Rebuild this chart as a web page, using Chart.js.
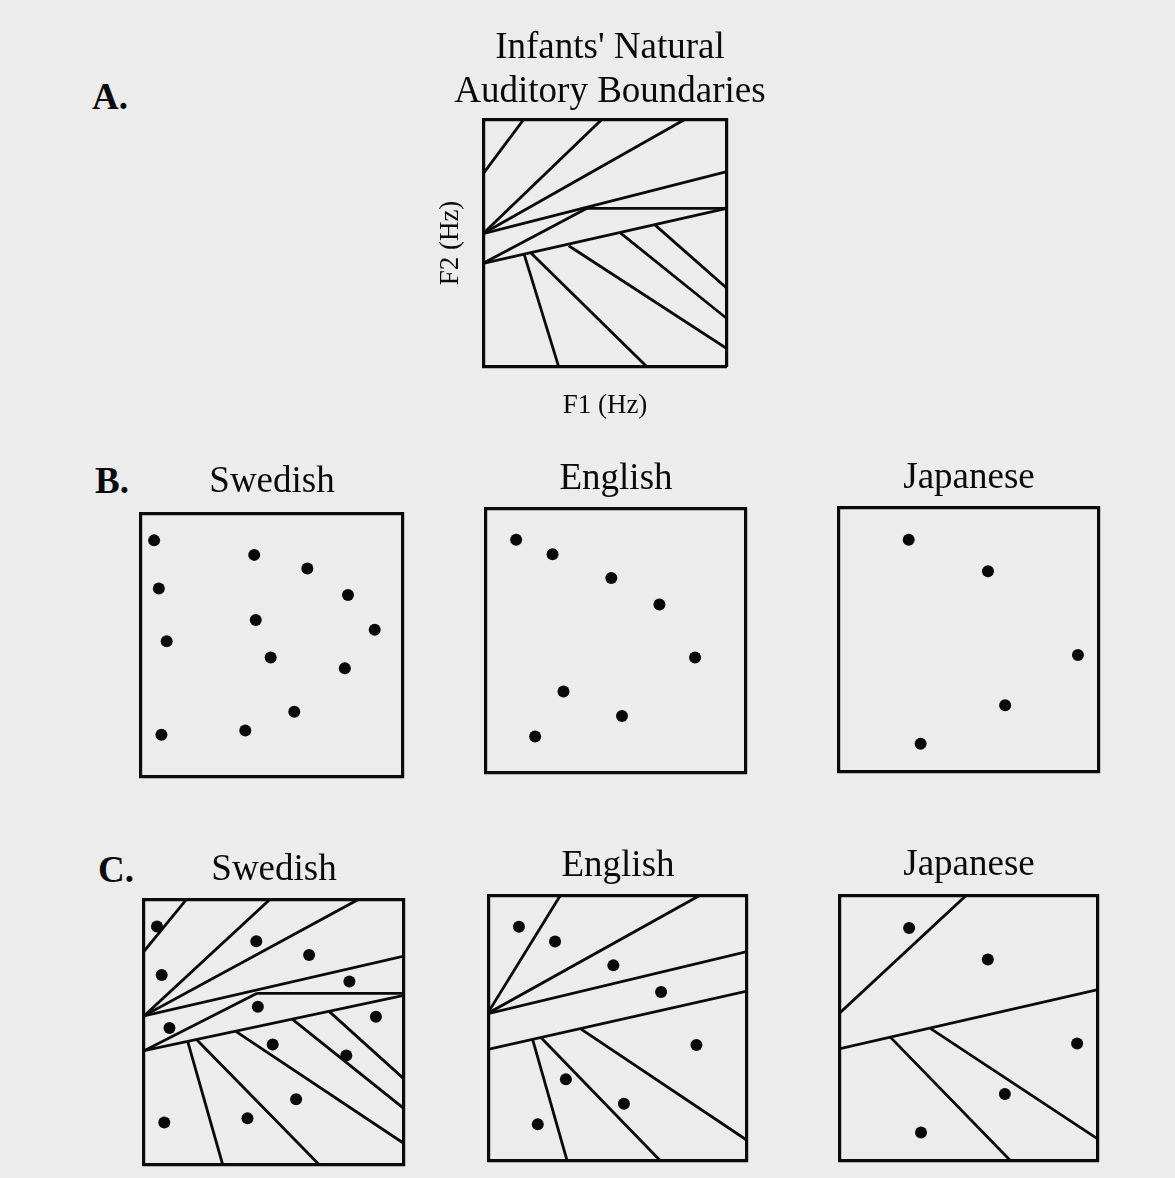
<!DOCTYPE html>
<html>
<head>
<meta charset="utf-8">
<script src="https://cdn.jsdelivr.net/npm/chart.js@4.4.1/dist/chart.umd.min.js"></script>
<style>
  body { margin: 0; width: 1175px; height: 1178px; background: #ececec; position: relative; overflow: hidden; }
  canvas { position: absolute; }
  .lbl { position: absolute; font: bold 37px "Liberation Serif", "Times New Roman", serif; line-height: 37px; color: #0a0a0a; }
</style>
</head>
<body>
<div class="lbl" style="left:92px;top:78px">A.</div>
<div class="lbl" style="left:95px;top:462px">B.</div>
<div class="lbl" style="left:98px;top:851px">C.</div>

<script>
// vowel positions on a 0-100 F1 / F2 scale (F2 upwards)
const swedishF1 = [5, 43.2, 63.5, 6.8, 79, 43.8, 89.2, 9.8, 49.5, 77.8, 58.5, 7.8, 39.8];
const swedishF2 = [89.7, 84.2, 79, 71.5, 69, 59.5, 55.8, 51.5, 45.3, 41.2, 24.7, 16, 17.6];
const englishF1 = [11.6, 25.6, 48.2, 66.7, 80.4, 29.8, 52.3, 18.9];
const englishF2 = [88.1, 82.6, 73.6, 63.6, 43.6, 30.8, 21.5, 13.8];
const japaneseF1 = [26.8, 57.3, 91.9, 63.9, 31.4];
const japaneseF2 = [87.7, 75.8, 44.2, 25.2, 10.7];

// boundary lines: [F1 start, F2 start, F1 end, F2 end]
const infantLines = [
  [0, 78, 16.7, 100],
  [0, 53.8, 48.8, 100],
  [0, 53.8, 82.9, 100],
  [0, 53.8, 100, 78.8],
  [0, 41.8, 42.6, 64],
  [42.6, 64, 100, 64],
  [0, 41.8, 100, 64],
  [16.7, 45.8, 31, 0],
  [19.4, 46.2, 67.2, 0],
  [35.1, 48.9, 100, 7.4],
  [56.3, 54.1, 100, 19.5],
  [70.6, 57.2, 100, 31.7]
];
const swedishLines = [
  [0, 80.4, 16.4, 100],
  [0, 56.1, 48.5, 100],
  [0, 56.1, 82.6, 100],
  [0, 56.1, 100, 78.6],
  [0, 43, 43.5, 64.6],
  [43.5, 64.6, 100, 64.6],
  [0, 43, 100, 63.8],
  [16.8, 46.5, 30.3, 0],
  [20.2, 47.2, 67.5, 0],
  [35.3, 50.3, 100, 8.1],
  [57, 54.9, 100, 21.2],
  [71.2, 57.8, 100, 32.4]
];
const englishLines = [
  [0, 56.4, 27.7, 100],
  [0, 55.8, 81.8, 100],
  [0, 55.5, 100, 78.8],
  [0, 42.1, 100, 63.9],
  [16.9, 45.8, 30.3, 0],
  [20.1, 46.5, 66.5, 0],
  [35.4, 49.8, 100, 7.8]
];
const japaneseLines = [
  [0, 55.8, 49, 100],
  [0, 42.3, 100, 64.5],
  [19.5, 46.6, 66.2, 0],
  [35, 49.9, 100, 8.2]
];

const INK = '#0a0a0a';
const SERIF = "'Liberation Serif', 'Times New Roman', serif";
const PAD = 4;
const TITLE_LH = 37 * 1.2;
const AXIS_LH = 27 * 1.2;

function lineSets(lines) {
  return lines.map(s => ({
    data: [{x: s[0], y: s[1]}, {x: s[2], y: s[3]}],
    showLine: true,
    pointRadius: 0,
    borderColor: INK,
    borderWidth: 2.8
  }));
}

function pointSet(f1, f2) {
  return {
    data: f1.map((v, i) => ({x: v, y: f2[i]})),
    showLine: false,
    pointRadius: 6,
    pointBackgroundColor: INK,
    pointBorderWidth: 0
  };
}

function edgeScale(position, title, spacer) {
  return {
    type: 'linear',
    position: position,
    min: 0,
    max: 100,
    ticks: {display: false},
    // hidden tick marks only reserve room (used to centre the panel A title)
    grid: {display: false, drawTicks: !!spacer, tickLength: spacer || 0},
    border: {display: true, color: INK, width: 3.2},
    title: title || {display: false}
  };
}

// box = plot frame in page pixels, titleY = centre of first title line
function panel(box, titleText, titleY, datasets, axes) {
  const lines = Array.isArray(titleText) ? titleText.length : 1;
  let leftSpace = 0, bottomSpace = 0, rightSpace = 0, xTitle, yTitle;
  if (axes) {
    const yGap = box.l - axes.yAt - AXIS_LH / 2;
    const xGap = axes.xAt - box.b - AXIS_LH / 2;
    leftSpace = AXIS_LH + yGap;
    bottomSpace = AXIS_LH + xGap;
    rightSpace = 2 * axes.titleX - (box.l - leftSpace) - box.r;
    yTitle = {display: true, text: axes.y, color: INK, font: {family: SERIF, size: 27, lineHeight: 1.2}, padding: {top: 0, bottom: yGap}};
    xTitle = {display: true, text: axes.x, color: INK, font: {family: SERIF, size: 27, lineHeight: 1.2}, padding: {top: xGap, bottom: 0}};
  }
  const left = box.l - leftSpace - PAD;
  const top = titleY - TITLE_LH / 2 - PAD;
  const width = Math.round(box.r + rightSpace + PAD - left);
  const height = Math.round(box.b + bottomSpace + PAD - top);

  const cv = document.createElement('canvas');
  cv.width = width;
  cv.height = height;
  cv.style.left = left + 'px';
  cv.style.top = top + 'px';
  cv.style.width = width + 'px';
  cv.style.height = height + 'px';
  document.body.appendChild(cv);

  new Chart(cv.getContext('2d'), {
    type: 'scatter',
    data: {datasets: datasets},
    options: {
      responsive: false,
      animation: false,
      devicePixelRatio: 1,
      layout: {padding: PAD},
      plugins: {
        legend: {display: false},
        tooltip: {enabled: false},
        title: {
          display: true,
          text: titleText,
          color: INK,
          font: {family: SERIF, size: 37, lineHeight: 1.2, weight: 'normal'},
          padding: {top: 0, bottom: box.t - (titleY - TITLE_LH / 2) - lines * TITLE_LH}
        }
      },
      scales: {
        x: edgeScale('bottom', xTitle),
        y: edgeScale('left', yTitle),
        x2: edgeScale('top'),
        y2: edgeScale('right', null, rightSpace)
      }
    }
  });
}

panel({l: 483, t: 119, r: 727, b: 367}, ["Infants' Natural", 'Auditory Boundaries'], 48,
  lineSets(infantLines), {x: 'F1 (Hz)', y: 'F2 (Hz)', xAt: 406, yAt: 451, titleX: 610});

panel({l: 139, t: 513, r: 405, b: 779}, 'Swedish', 482, [pointSet(swedishF1, swedishF2)]);
panel({l: 484, t: 508, r: 748, b: 775}, 'English', 479, [pointSet(englishF1, englishF2)]);
panel({l: 837, t: 507, r: 1101, b: 774}, 'Japanese', 478, [pointSet(japaneseF1, japaneseF2)]);

panel({l: 142, t: 899, r: 406, b: 1167}, 'Swedish', 870,
  lineSets(swedishLines).concat([pointSet(swedishF1, swedishF2)]));
panel({l: 487, t: 895, r: 749, b: 1163}, 'English', 866,
  lineSets(englishLines).concat([pointSet(englishF1, englishF2)]));
panel({l: 838, t: 895, r: 1100, b: 1163}, 'Japanese', 865,
  lineSets(japaneseLines).concat([pointSet(japaneseF1, japaneseF2)]));
</script>
</body>
</html>
